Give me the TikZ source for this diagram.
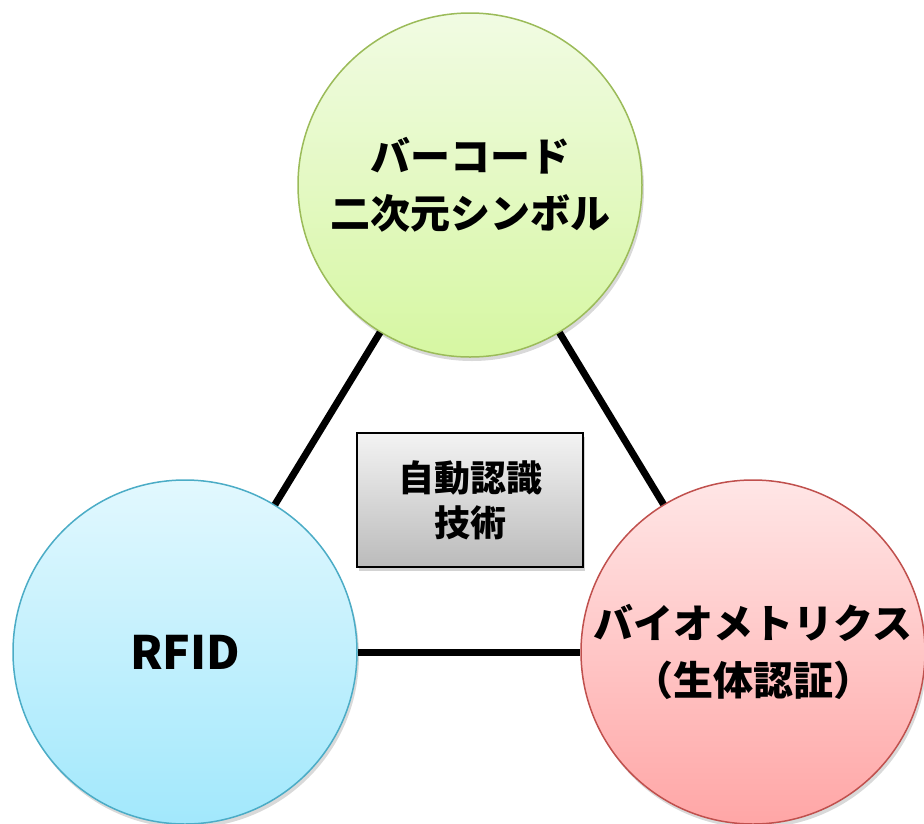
\documentclass[tikz,border=0pt]{standalone}
\usepackage{fontspec}
\newfontfamily\jp{Noto Sans CJK JP}
\usetikzlibrary{shadows}
\definecolor{gtop}{HTML}{F1FBE3}
\definecolor{gbot}{HTML}{D6F7A2}
\definecolor{gline}{HTML}{9BBB59}
\definecolor{btop}{HTML}{E2F8FE}
\definecolor{bbot}{HTML}{A2E8FC}
\definecolor{bline}{HTML}{4BACC6}
\definecolor{rtop}{HTML}{FFE6E6}
\definecolor{rbot}{HTML}{FFA6A6}
\definecolor{rline}{HTML}{C0504D}
\definecolor{xtop}{HTML}{F3F3F3}
\definecolor{xbot}{HTML}{BBBBBB}
\tikzset{
  bubble/.style={circle, minimum size=344pt, inner sep=0pt, line width=1.5pt, align=center,
    drop shadow={opacity=0.3, shadow xshift=2pt, shadow yshift=-4pt},
    font=\jp\bfseries\fontsize{40}{57}\selectfont},
  centerbox/.style={rectangle, draw=black, line width=1.3pt, minimum width=226pt, minimum height=134pt,
    top color=xtop, bottom color=xbot, align=center, inner sep=0pt,
    drop shadow={opacity=0.35, shadow xshift=2pt, shadow yshift=-4pt},
    font=\jp\bfseries\fontsize{36}{45}\selectfont},
  link/.style={line width=7pt, black}
}
\begin{document}
\begin{tikzpicture}[x=1pt, y=-1pt]
\useasboundingbox (0,0) rectangle (924,823);
\node[bubble, draw=gline, top color=gtop, bottom color=gbot] (top) at (470,185) {バーコード\\二次元シンボル};
\node[bubble, draw=bline, top color=btop, bottom color=bbot, font=\jp\bfseries\fontsize{46}{57}\selectfont] (left) at (185,652) {RFID};
\node[bubble, draw=rline, top color=rtop, bottom color=rbot] (right) at (753,652) {バイオメトリクス\\（生体認証）};
\node[centerbox] (core) at (470,500) {自動認識\\技術};
\draw[link] (top) -- (left);
\draw[link] (top) -- (right);
\draw[link] (left) -- (right);
\end{tikzpicture}
\end{document}
